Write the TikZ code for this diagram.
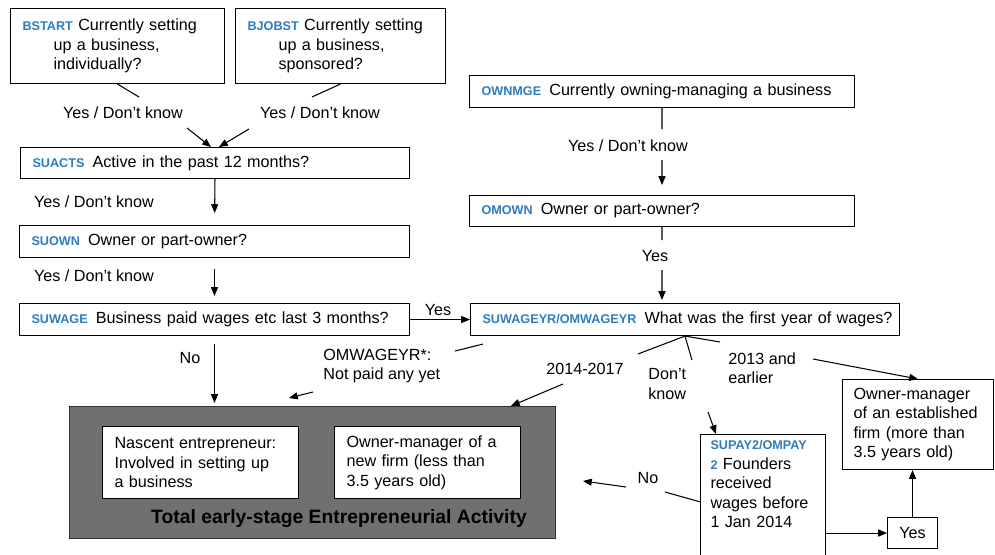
\documentclass[tikz,border=0pt]{standalone}
\usepackage{fontspec}
\setmainfont{Liberation Sans}
\usetikzlibrary{positioning,arrows.meta,calc}

\definecolor{qblue}{RGB}{46,125,192}
\definecolor{teagray}{RGB}{112,112,112}
\newcommand{\qcode}[1]{{\fontsize{7.2}{11.1}\selectfont\bfseries\color{qblue}#1}}

\begin{document}
\begin{tikzpicture}[
        x=0.02cm, y=-0.02cm,
        every node/.style={font=\fontsize{9.2}{11.1}\selectfont},
        box/.style={rectangle, draw, line width=0.6pt, fill=white, anchor=north west, align=left, inner xsep=0.24cm, inner ysep=0pt},
        yesbox/.style={rectangle, draw, line width=0.6pt, fill=white, anchor=north west, minimum width=1cm, minimum height=0.62cm, inner sep=0pt},
        lbl/.style={inner sep=0pt, align=left},
        ln/.style={draw, line width=0.6pt},
        arr/.style={draw, line width=0.6pt, -{Triangle[length=5pt,width=4pt]}}
    ]
    \useasboundingbox (0,0) rectangle (995,555);

    % nodes
    \node[box, text width=3.8cm, minimum height=1.5cm] (bstart) at (10,8)
        {\qcode{BSTART} Currently setting\\\hspace*{0.62cm}up a business,\\\hspace*{0.62cm}individually?};
    \node[box, text width=3.72cm, minimum height=1.5cm] (bjobst) at (235,8)
        {\qcode{BJOBST} Currently setting\\\hspace*{0.62cm}up a business,\\\hspace*{0.62cm}sponsored?};
    \node[box, text width=7.3cm, minimum height=0.62cm] (suacts) at (20,147) {\qcode{SUACTS}\enspace Active in the past 12 months?};
    \node[box, text width=7.32cm, minimum height=0.64cm] (suown) at (19,225) {\qcode{SUOWN}\enspace Owner or part-owner?};
    \node[box, text width=7.32cm, minimum height=0.64cm] (suwage) at (19,303) {\qcode{SUWAGE}\enspace Business paid wages etc last 3 months?};
    \node[box, text width=7.22cm, minimum height=0.64cm] (ownmge) at (469,75) {\qcode{OWNMGE}\enspace Currently owning-managing a business};
    \node[box, text width=7.22cm, minimum height=0.62cm] (omown) at (469,195) {\qcode{OMOWN}\enspace Owner or part-owner?};
    \node[box, text width=8.1cm, minimum height=0.64cm] (suwageyr) at (470,303) {\mbox{\qcode{SUWAGEYR/OMWAGEYR}\enspace What was the first year of wages?}};

    \node[rectangle, draw=black!80, line width=0.6pt, fill=teagray, anchor=north west, minimum width=9.72cm, minimum height=2.64cm, inner sep=0pt] (tea) at (69,406) {};
    \node[box, text width=3.44cm, minimum height=1.44cm] (nascent) at (102,426) {Nascent entrepreneur:\\Involved in setting up\\a business};
    \node[box, text width=3.24cm, minimum height=1.44cm] (newfirm) at (334,426) {Owner-manager of a\\new firm (less than\\3.5 years old)};
    \node[lbl, font=\fontsize{11}{13}\selectfont\bfseries] (tealbl) at (339,519) {Total early-stage Entrepreneurial Activity};

    \node[box, text width=2.58cm, minimum height=1.8cm, inner xsep=0.22cm] (established) at (842,379) {Owner-manager\\of an established\\firm (more than\\3.5 years old)};
    \node[box, text width=2.1cm, inner xsep=0.2cm, inner ysep=0.12cm] (supay) at (700,434)
        {\qcode{SUPAY2/OMPAY}\\\qcode{2} Founders\\received\\wages before\\1 Jan 2014\\[0.32cm]\mbox{}};
    \node[yesbox] (yes) at (887,517) {Yes};

    % labels
    \node[lbl] (l1) at (123,113) {Yes / Don’t know};
    \node[lbl] (l2) at (320,113) {Yes / Don’t know};
    \node[lbl] (l3) at (94,202) {Yes / Don’t know};
    \node[lbl] (l4) at (94,276) {Yes / Don’t know};
    \node[lbl] (l5) at (438,310) {Yes};
    \node[lbl] (l6) at (628,146) {Yes / Don’t know};
    \node[lbl] (l7) at (655,256) {Yes};
    \node[lbl] (l8) at (190,358) {No};
    \node[lbl, anchor=west] (l9) at (323,366) {OMWAGEYR*:\\Not paid any yet};
    \node[lbl] (l10) at (585,369) {2014-2017};
    \node[lbl, anchor=west] (l11) at (648,384) {Don’t\\know};
    \node[lbl, anchor=west] (l12) at (728,368) {2013 and\\earlier};
    \node[lbl] (l13) at (648,478) {No};

    % free ends
    \coordinate (bs1) at (139,97);  \coordinate (bs2) at (187,128);
    \coordinate (bj1) at (312,97);  \coordinate (bj2) at (249,129);
    \coordinate (ow1) at (662,129); \coordinate (ow2) at (662,160);
    \coordinate (om1) at (662,240); \coordinate (om2) at (662,270);
    \coordinate (nw1) at (455,351); \coordinate (nw2) at (313,392); \coordinate (nw3) at (289,398);
    \coordinate (ny1) at (638,354); \coordinate (ny2) at (563,384);
    \coordinate (dk1) at (692,360); \coordinate (dk2) at (708,412);
    \coordinate (ea1) at (720,342); \coordinate (ea2) at (813,359);
    \coordinate (no1) at (665,492); \coordinate (no2) at (626,487); \coordinate (no3) at (583,481);

    % lines
    \path[ln] (bstart.south) -- (bs1);
    \path[arr] (bs2) -- ($(suacts.north)+(-4,0)$);
    \path[ln] (bjobst.south) -- (bj1);
    \path[arr] (bj2) -- ($(suacts.north)+(4,0)$);
    \path[arr, shorten >=0.24cm] (suacts.south) -- (suown.north);
    \path[arr, shorten <=0.22cm, shorten >=0.14cm] (suown.south) -- (suwage.north);
    \path[arr] (suwage.east) -- (suwageyr.west);
    \path[arr, shorten <=0.16cm, shorten >=0.06cm] (suwage.south) -- (suwage.south |- tea.north);

    \path[ln] (ownmge.south) -- (ow1);
    \path[arr, shorten >=0.2cm] (ow2) -- (omown.north);
    \path[ln] (omown.south) -- (om1);
    \path[arr, shorten >=0.06cm] (om2) -- (omown.south |- suwageyr.north);

    \path[ln] ($(suwageyr.south west)+(13,8)$) -- (nw1);
    \path[arr] (nw2) -- (nw3);
    \path[ln] (suwageyr.south) -- (ny1);
    \path[arr] (ny2) -- ($(tea.north east)+(-45,0)$);
    \path[ln] (suwageyr.south) -- (dk1);
    \path[arr] (dk2) -- ($(supay.north west)+(16,0)$);
    \path[ln] (suwageyr.south) -- (ea1);
    \path[arr] (ea2) -- (established.north);

    \path[ln] (supay.west) -- (no1);
    \path[arr] (no2) -- (no3);
    \path[arr] (supay.east |- yes.west) -- (yes.west);
    \path[arr] (yes.north) -- (yes.north |- established.south);

\end{tikzpicture}
\end{document}
